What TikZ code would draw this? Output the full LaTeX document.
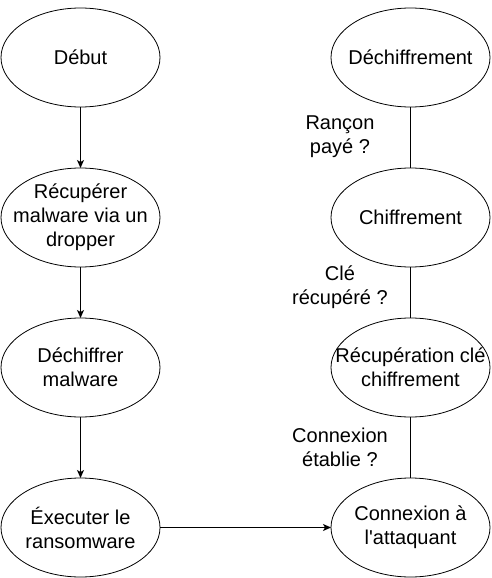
\documentclass[tikz,border=0pt]{standalone}
\usepackage{fontspec}
\setmainfont{Liberation Sans}
\usetikzlibrary{shapes.geometric,arrows.meta}
\begin{document}
\begin{tikzpicture}[x=1pt,y=-1pt,
  every label/.style={font=\fontsize{20}{24}\selectfont, align=center, inner sep=0pt},
  state/.style={ellipse, draw, line width=0.8pt, minimum width=159pt, minimum height=99pt, inner sep=0pt, outer sep=0pt},
  lab/.style={font=\fontsize{20}{24}\selectfont, align=center, inner sep=0pt},
  flow/.style={draw, line width=0.9pt, -{Stealth[length=8pt,width=7pt,inset=2pt]}},
  link/.style={draw, line width=0.9pt}]
\useasboundingbox (0,0) rectangle (492,578);
\node[state, label={center:Début}] (debut) at (80.5,57.5) {};
\node[state, label={center:Récupérer\\malware via un\\dropper}] (recup) at (80.5,217.5) {};
\node[state, label={center:Déchiffrer\\malware}] (dech) at (80.5,367.5) {};
\node[state, label={center:Éxecuter le\\ransomware}] (exec) at (80.5,527.5) {};
\node[state, label={center:Déchiffrement}] (dechif) at (410.5,57.5) {};
\node[state, label={center:Chiffrement}] (chif) at (410.5,217.5) {};
\node[state, label={center:Récupération clé\\chiffrement}] (recle) at (410.5,367.5) {};
\node[state, label={center:Connexion à\\l\textquotesingle attaquant}] (conn) at (410.5,527.5) {};
\path[flow] (debut) -- (recup);
\path[flow] (recup) -- (dech);
\path[flow] (dech) -- (exec);
\path[flow] (exec) -- (conn);
\path[link] (conn) -- (recle);
\path[link] (recle) -- (chif);
\path[link] (chif) -- (dechif);
\node[lab] (l1) at (340,137) {Rançon\\payé ?};
\node[lab] (l2) at (340,287) {Clé\\récupéré ?};
\node[lab] (l3) at (340,447) {Connexion\\établie ?};
\end{tikzpicture}
\end{document}
